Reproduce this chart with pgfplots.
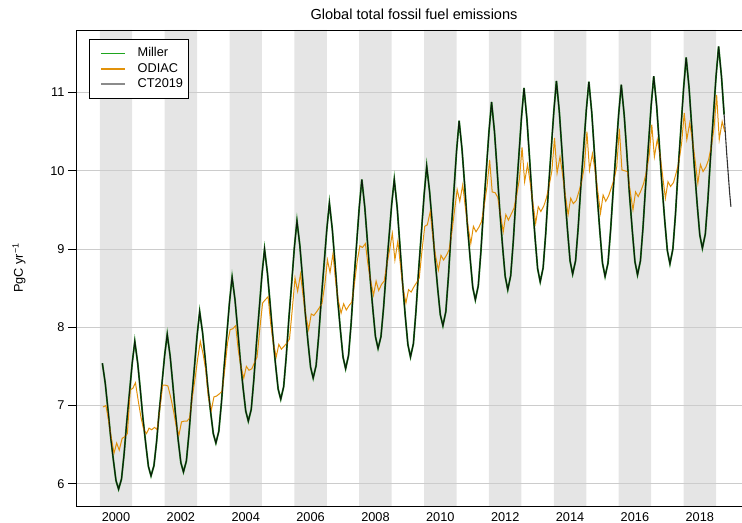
\documentclass[border=0pt]{standalone}
\usepackage{fontspec}
\setmainfont{Liberation Sans}
\usepackage{pgfplots}
\usepackage{pgfplotstable}
\pgfplotsset{compat=1.18}

\definecolor{millergreen}{RGB}{50,145,50}
\definecolor{legendgreen}{RGB}{30,165,30}
\definecolor{odiacorange}{RGB}{226,146,10}
\definecolor{bandgray}{RGB}{229,229,229}
\definecolor{gridgray}{RGB}{204,204,204}
\definecolor{ctgray}{RGB}{110,110,110}

% model curves (Miller / CT2019), monthly
\pgfplotstableread[row sep=\\]{
t v\\
1999.58 7.54\\ 1999.67 7.28\\ 1999.75 6.96\\ 1999.83 6.62\\ 1999.92 6.30\\
2000.00 6.04\\ 2000.08 5.93\\ 2000.17 6.06\\ 2000.25 6.38\\ 2000.33 6.78\\ 2000.42 7.18\\ 2000.50 7.54\\ 2000.58 7.82\\ 2000.67 7.54\\ 2000.75 7.20\\ 2000.83 6.84\\ 2000.92 6.50\\
2001.00 6.22\\ 2001.08 6.10\\ 2001.17 6.23\\ 2001.25 6.53\\ 2001.33 6.91\\ 2001.42 7.29\\ 2001.50 7.64\\ 2001.58 7.91\\ 2001.67 7.63\\ 2001.75 7.28\\ 2001.83 6.91\\ 2001.92 6.55\\
2002.00 6.27\\ 2002.08 6.15\\ 2002.17 6.29\\ 2002.25 6.64\\ 2002.33 7.07\\ 2002.42 7.50\\ 2002.50 7.89\\ 2002.58 8.20\\ 2002.67 7.93\\ 2002.75 7.60\\ 2002.83 7.24\\ 2002.92 6.91\\
2003.00 6.64\\ 2003.08 6.52\\ 2003.17 6.67\\ 2003.25 7.03\\ 2003.33 7.47\\ 2003.42 7.92\\ 2003.50 8.32\\ 2003.58 8.64\\ 2003.67 8.35\\ 2003.75 7.98\\ 2003.83 7.59\\ 2003.92 7.22\\
2004.00 6.93\\ 2004.08 6.80\\ 2004.17 6.95\\ 2004.25 7.33\\ 2004.33 7.79\\ 2004.42 8.25\\ 2004.50 8.67\\ 2004.58 9.00\\ 2004.67 8.69\\ 2004.75 8.31\\ 2004.83 7.91\\ 2004.92 7.52\\
2005.00 7.21\\ 2005.08 7.08\\ 2005.17 7.24\\ 2005.25 7.63\\ 2005.33 8.11\\ 2005.42 8.58\\ 2005.50 9.02\\ 2005.58 9.36\\ 2005.67 9.04\\ 2005.75 8.64\\ 2005.83 8.21\\ 2005.92 7.81\\
2006.00 7.49\\ 2006.08 7.35\\ 2006.17 7.51\\ 2006.25 7.89\\ 2006.33 8.36\\ 2006.42 8.83\\ 2006.50 9.25\\ 2006.58 9.59\\ 2006.67 9.25\\ 2006.75 8.83\\ 2006.83 8.38\\ 2006.92 7.96\\
2007.00 7.62\\ 2007.08 7.47\\ 2007.17 7.64\\ 2007.25 8.05\\ 2007.33 8.56\\ 2007.42 9.07\\ 2007.50 9.53\\ 2007.58 9.89\\ 2007.67 9.54\\ 2007.75 9.11\\ 2007.83 8.66\\ 2007.92 8.23\\
2008.00 7.88\\ 2008.08 7.73\\ 2008.17 7.88\\ 2008.25 8.25\\ 2008.33 8.70\\ 2008.42 9.16\\ 2008.50 9.57\\ 2008.58 9.89\\ 2008.67 9.53\\ 2008.75 9.07\\ 2008.83 8.60\\ 2008.92 8.14\\
2009.00 7.78\\ 2009.08 7.62\\ 2009.17 7.79\\ 2009.25 8.21\\ 2009.33 8.72\\ 2009.42 9.23\\ 2009.50 9.69\\ 2009.58 10.06\\ 2009.67 9.73\\ 2009.75 9.33\\ 2009.83 8.90\\ 2009.92 8.49\\
2010.00 8.16\\ 2010.08 8.02\\ 2010.17 8.20\\ 2010.25 8.65\\ 2010.33 9.20\\ 2010.42 9.75\\ 2010.50 10.25\\ 2010.58 10.64\\ 2010.67 10.27\\ 2010.75 9.82\\ 2010.83 9.33\\ 2010.92 8.88\\
2011.00 8.51\\ 2011.08 8.35\\ 2011.17 8.53\\ 2011.25 8.96\\ 2011.33 9.49\\ 2011.42 10.02\\ 2011.50 10.50\\ 2011.58 10.88\\ 2011.67 10.50\\ 2011.75 10.02\\ 2011.83 9.51\\ 2011.92 9.03\\
2012.00 8.65\\ 2012.08 8.48\\ 2012.17 8.66\\ 2012.25 9.10\\ 2012.33 9.64\\ 2012.42 10.18\\ 2012.50 10.67\\ 2012.58 11.06\\ 2012.67 10.66\\ 2012.75 10.17\\ 2012.83 9.65\\ 2012.92 9.15\\
2013.00 8.75\\ 2013.08 8.58\\ 2013.17 8.76\\ 2013.25 9.20\\ 2013.33 9.74\\ 2013.42 10.28\\ 2013.50 10.76\\ 2013.58 11.15\\ 2013.67 10.75\\ 2013.75 10.26\\ 2013.83 9.74\\ 2013.92 9.25\\
2014.00 8.85\\ 2014.08 8.68\\ 2014.17 8.85\\ 2014.25 9.27\\ 2014.33 9.79\\ 2014.42 10.30\\ 2014.50 10.77\\ 2014.58 11.14\\ 2014.67 10.74\\ 2014.75 10.24\\ 2014.83 9.72\\ 2014.92 9.22\\
2015.00 8.82\\ 2015.08 8.65\\ 2015.17 8.82\\ 2015.25 9.24\\ 2015.33 9.75\\ 2015.42 10.27\\ 2015.50 10.73\\ 2015.58 11.10\\ 2015.67 10.71\\ 2015.75 10.23\\ 2015.83 9.71\\ 2015.92 9.23\\
2016.00 8.84\\ 2016.08 8.67\\ 2016.17 8.85\\ 2016.25 9.28\\ 2016.33 9.81\\ 2016.42 10.35\\ 2016.50 10.83\\ 2016.58 11.21\\ 2016.67 10.83\\ 2016.75 10.35\\ 2016.83 9.84\\ 2016.92 9.36\\
2017.00 8.98\\ 2017.08 8.81\\ 2017.17 9.00\\ 2017.25 9.44\\ 2017.33 10.00\\ 2017.42 10.55\\ 2017.50 11.05\\ 2017.58 11.45\\ 2017.67 11.06\\ 2017.75 10.57\\ 2017.83 10.06\\ 2017.92 9.57\\
2018.00 9.18\\ 2018.08 9.01\\ 2018.17 9.19\\ 2018.25 9.63\\ 2018.33 10.17\\ 2018.42 10.71\\ 2018.50 11.20\\ 2018.58 11.59\\ 2018.67 11.20\\ 2018.75 10.72\\ 2018.83 10.22\\ 2018.92 9.72\\
2018.96 9.54\\
}\modeltab

% ODIAC, monthly
\pgfplotstableread[row sep=\\]{
t v\\
1999.60 6.98\\ 1999.69 7.00\\ 1999.77 6.81\\ 1999.85 6.60\\ 1999.94 6.39\\
2000.02 6.52\\ 2000.10 6.43\\ 2000.19 6.58\\ 2000.27 6.60\\ 2000.35 6.64\\ 2000.44 7.20\\ 2000.52 7.22\\ 2000.60 7.29\\ 2000.69 7.05\\ 2000.77 6.85\\ 2000.85 6.70\\ 2000.94 6.64\\
2001.02 6.71\\ 2001.10 6.69\\ 2001.19 6.72\\ 2001.27 6.69\\ 2001.35 6.95\\ 2001.44 7.26\\ 2001.52 7.26\\ 2001.60 7.25\\ 2001.69 7.10\\ 2001.77 6.94\\ 2001.85 6.75\\ 2001.94 6.62\\
2002.02 6.79\\ 2002.10 6.80\\ 2002.19 6.80\\ 2002.27 6.84\\ 2002.35 7.10\\ 2002.44 7.35\\ 2002.52 7.60\\ 2002.60 7.82\\ 2002.69 7.65\\ 2002.77 7.45\\ 2002.85 7.10\\ 2002.94 6.94\\
2003.02 7.11\\ 2003.10 7.12\\ 2003.19 7.15\\ 2003.27 7.18\\ 2003.35 7.45\\ 2003.44 7.80\\ 2003.52 7.97\\ 2003.60 7.98\\ 2003.69 8.02\\ 2003.77 7.71\\ 2003.85 7.50\\ 2003.94 7.35\\
2004.02 7.50\\ 2004.10 7.45\\ 2004.19 7.47\\ 2004.27 7.55\\ 2004.35 7.62\\ 2004.44 8.00\\ 2004.52 8.31\\ 2004.60 8.35\\ 2004.69 8.39\\ 2004.77 8.05\\ 2004.85 7.80\\ 2004.94 7.62\\
2005.02 7.78\\ 2005.10 7.72\\ 2005.19 7.76\\ 2005.27 7.80\\ 2005.35 7.85\\ 2005.44 8.25\\ 2005.52 8.63\\ 2005.60 8.46\\ 2005.69 8.68\\ 2005.77 8.40\\ 2005.85 8.15\\ 2005.94 7.97\\
2006.02 8.17\\ 2006.10 8.15\\ 2006.19 8.20\\ 2006.27 8.25\\ 2006.35 8.30\\ 2006.44 8.55\\ 2006.52 8.86\\ 2006.60 8.70\\ 2006.69 8.94\\ 2006.77 8.60\\ 2006.85 8.35\\ 2006.94 8.18\\
2007.02 8.30\\ 2007.10 8.22\\ 2007.19 8.28\\ 2007.27 8.32\\ 2007.35 8.55\\ 2007.44 8.85\\ 2007.52 9.04\\ 2007.60 9.02\\ 2007.69 9.07\\ 2007.77 8.80\\ 2007.85 8.60\\ 2007.94 8.41\\
2008.02 8.59\\ 2008.10 8.47\\ 2008.19 8.55\\ 2008.27 8.59\\ 2008.35 8.80\\ 2008.44 9.00\\ 2008.52 9.20\\ 2008.60 8.86\\ 2008.69 9.10\\ 2008.77 8.80\\ 2008.85 8.50\\ 2008.94 8.31\\
2009.02 8.48\\ 2009.10 8.45\\ 2009.19 8.52\\ 2009.27 8.57\\ 2009.35 8.63\\ 2009.44 9.00\\ 2009.52 9.29\\ 2009.60 9.31\\ 2009.69 9.48\\ 2009.77 9.15\\ 2009.85 8.92\\ 2009.94 8.73\\
2010.02 8.92\\ 2010.10 8.86\\ 2010.19 8.92\\ 2010.27 8.99\\ 2010.35 9.20\\ 2010.44 9.50\\ 2010.52 9.76\\ 2010.60 9.61\\ 2010.69 9.82\\ 2010.77 9.54\\ 2010.85 9.30\\ 2010.94 9.07\\
2011.02 9.29\\ 2011.10 9.22\\ 2011.19 9.28\\ 2011.27 9.35\\ 2011.35 9.55\\ 2011.44 9.80\\ 2011.52 10.14\\ 2011.60 9.73\\ 2011.69 9.72\\ 2011.77 9.66\\ 2011.85 9.45\\ 2011.94 9.22\\
2012.02 9.44\\ 2012.10 9.37\\ 2012.19 9.45\\ 2012.27 9.52\\ 2012.35 9.68\\ 2012.44 9.90\\ 2012.52 10.30\\ 2012.60 9.86\\ 2012.69 10.08\\ 2012.77 9.85\\ 2012.85 9.60\\ 2012.94 9.33\\
2013.02 9.54\\ 2013.10 9.48\\ 2013.19 9.55\\ 2013.27 9.65\\ 2013.35 9.80\\ 2013.44 10.00\\ 2013.52 10.42\\ 2013.60 9.97\\ 2013.69 10.18\\ 2013.77 9.95\\ 2013.85 9.70\\ 2013.94 9.44\\
2014.02 9.65\\ 2014.10 9.58\\ 2014.19 9.62\\ 2014.27 9.73\\ 2014.35 9.85\\ 2014.44 10.05\\ 2014.52 10.50\\ 2014.60 10.01\\ 2014.69 10.22\\ 2014.77 10.01\\ 2014.85 9.75\\ 2014.94 9.46\\
2015.02 9.69\\ 2015.10 9.61\\ 2015.19 9.68\\ 2015.27 9.78\\ 2015.35 9.88\\ 2015.44 10.05\\ 2015.52 10.54\\ 2015.60 10.01\\ 2015.69 10.00\\ 2015.77 9.99\\ 2015.85 9.75\\ 2015.94 9.50\\
2016.02 9.73\\ 2016.10 9.67\\ 2016.19 9.75\\ 2016.27 9.84\\ 2016.35 9.98\\ 2016.44 10.20\\ 2016.52 10.59\\ 2016.60 10.18\\ 2016.69 10.40\\ 2016.77 10.22\\ 2016.85 9.95\\ 2016.94 9.65\\
2017.02 9.86\\ 2017.10 9.80\\ 2017.19 9.85\\ 2017.27 9.97\\ 2017.35 10.10\\ 2017.44 10.35\\ 2017.52 10.74\\ 2017.60 10.40\\ 2017.69 10.61\\ 2017.77 10.40\\ 2017.85 10.15\\ 2017.94 9.84\\
2018.02 10.08\\ 2018.10 9.99\\ 2018.19 10.05\\ 2018.27 10.14\\ 2018.35 10.30\\ 2018.44 10.55\\ 2018.52 10.97\\ 2018.60 10.40\\ 2018.69 10.63\\ 2018.77 10.50\\
}\odiactab

\begin{document}
\begin{tikzpicture}[font=\fontsize{12.8}{15}\selectfont]
\begin{axis}[
    name=ax,
    set layers,
    scale only axis,
    width=676bp, height=476bp,
    xmin=1998.767, xmax=2019.61,
    ymin=5.715, ymax=11.80,
    axis x line*=bottom, axis y line*=left,
    axis line style={line width=0.8bp, black},
    xtick={2000,2002,...,2018},
    ytick={6,7,8,9,10,11},
    xtick style={draw=none},
    ytick style={black, line width=0.8bp},
    tick align=outside,
    major tick length=8bp,
    /pgf/number format/1000 sep={},
    /pgf/number format/assume math mode=true,
    tick label style={font=\fontsize{12.8}{15}\selectfont},
    xticklabel style={yshift=5bp},
    ymajorgrids,
    grid style={gridgray, line width=0.8bp},
    title={Global total fossil fuel emissions},
    every axis title/.style={at={(axis description cs:0.5,1)}, anchor=center, yshift=15.5bp, font=\fontsize{14.6}{17}\selectfont},
    ylabel={PgC yr\textsuperscript{−1}},
    every axis y label/.style={at={(axis description cs:-0.0843,0.5)}, rotate=90, anchor=center},
    legend cell align=left,
    legend style={at={(axis description cs:0.0192,0.981)}, anchor=north west,
        draw=black, line width=0.8bp, fill=white,
        inner xsep=4bp, inner ysep=7bp, column sep=10bp, row sep=0.7bp,
        nodes={inner sep=1.5bp, text height=9bp, text depth=2.5bp},
        font=\fontsize{12.8}{15}\selectfont},
]
% shaded bands around even years
\addplot[fill=bandgray, draw=none, forget plot, on layer=axis background] coordinates {
 (1999.5,5.715) (1999.5,11.8) (2000.5,11.8) (2000.5,5.715)
 (2001.5,5.715) (2001.5,11.8) (2002.5,11.8) (2002.5,5.715)
 (2003.5,5.715) (2003.5,11.8) (2004.5,11.8) (2004.5,5.715)
 (2005.5,5.715) (2005.5,11.8) (2006.5,11.8) (2006.5,5.715)
 (2007.5,5.715) (2007.5,11.8) (2008.5,11.8) (2008.5,5.715)
 (2009.5,5.715) (2009.5,11.8) (2010.5,11.8) (2010.5,5.715)
 (2011.5,5.715) (2011.5,11.8) (2012.5,11.8) (2012.5,5.715)
 (2013.5,5.715) (2013.5,11.8) (2014.5,11.8) (2014.5,5.715)
 (2015.5,5.715) (2015.5,11.8) (2016.5,11.8) (2016.5,5.715)
 (2017.5,5.715) (2017.5,11.8) (2018.5,11.8) (2018.5,5.715)
};
\addplot[millergreen, line width=1.8bp, restrict x to domain=1999:2018.76,
    legend image code/.code={\path (0bp,0bp); \draw[legendgreen, line width=1.4bp] (7bp,0bp) -- (31bp,0bp);}] table[x=t, y=v] {\modeltab};
\addlegendentry{Miller}
\addplot[odiacorange, line width=1bp,
    legend image code/.code={\path (0bp,0bp); \draw[odiacorange, line width=1.3bp] (7bp,0bp) -- (31bp,0bp);}] table[x=t, y=v] {\odiactab};
\addlegendentry{ODIAC}
\addplot[black, opacity=0.8, line width=1.1bp,
    legend image code/.code={\path (0bp,0bp); \draw[ctgray, line width=1.8bp] (7bp,0bp) -- (31bp,0bp);}] table[x=t, y=v] {\modeltab};
\addlegendentry{CT2019}
\draw[line width=0.8bp] (rel axis cs:0,1) -- (rel axis cs:1,1);
\end{axis}
\pgfresetboundingbox
\path ([xshift=-76bp,yshift=-17bp]ax.south west) rectangle ([xshift=-10bp,yshift=30bp]ax.north east);
\end{tikzpicture}
\end{document}
